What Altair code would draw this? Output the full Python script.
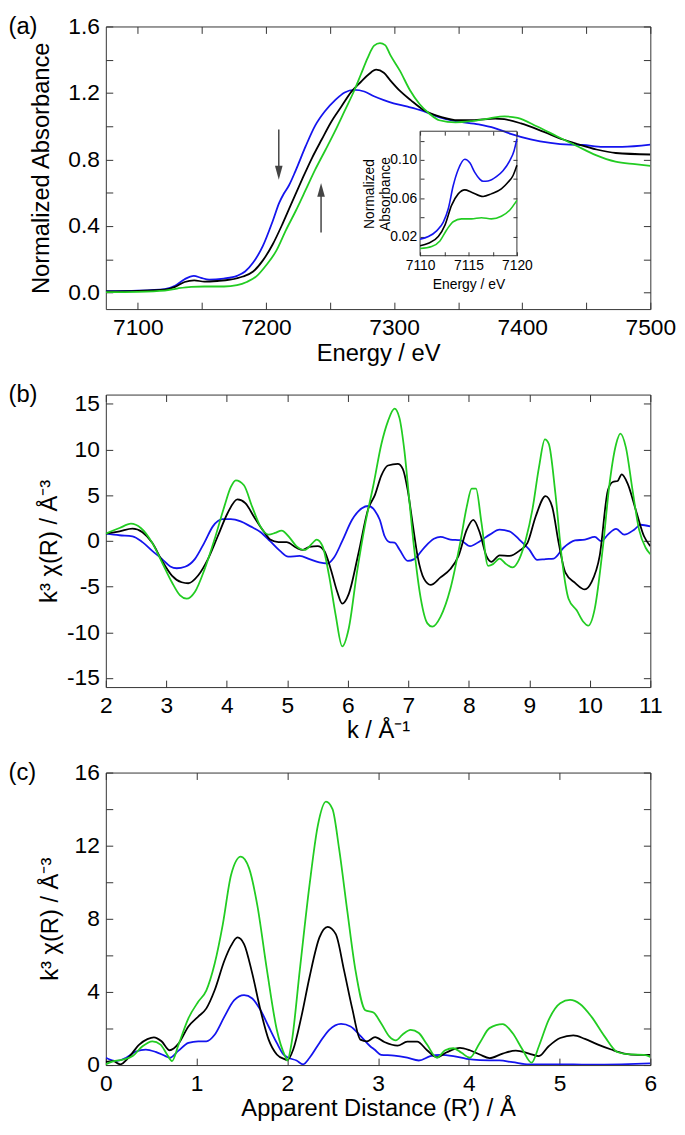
import altair as alt
import pandas as pd

SERIES = ["blue", "black", "green"]
COLORS = ["#1414ee", "#000000", "#22cc22"]
PANEL_LABELS = ["(a)", "(b)", "(c)"]

# ---------------- (a) XANES ----------------
A_BLUE_E = [7075, 7100, 7121, 7129, 7136.5, 7143.7, 7149.3, 7155.7, 7167, 7177.4, 7183.7, 7190,
            7197.6, 7205.3, 7210.4, 7214, 7218, 7223, 7231, 7238.5, 7246, 7254, 7261.4, 7269, 7276.7,
            7284.3, 7292, 7299.6, 7309.8, 7322.5, 7335, 7348, 7366, 7378.5, 7391, 7406.6, 7422,
            7437, 7447, 7463, 7478, 7500]
A_BLUE_V = [0.008, 0.011, 0.02, 0.04, 0.08, 0.10, 0.088, 0.077, 0.084, 0.10, 0.126, 0.18,
            0.28, 0.43, 0.54, 0.595, 0.645, 0.73, 0.88, 1.005, 1.09, 1.157, 1.203, 1.218, 1.209,
            1.18, 1.157, 1.138, 1.119, 1.092, 1.055, 1.03, 1.011, 0.989, 0.954, 0.921, 0.90,
            0.889, 0.887, 0.876, 0.876, 0.889]
A_BLACK_E = [7075, 7100, 7121, 7129, 7136.5, 7144, 7152, 7162, 7172, 7182, 7190, 7197.6, 7205.3,
             7213, 7220.6, 7228.2, 7236, 7243.5, 7251, 7259, 7266.4, 7274, 7280.5, 7286, 7292,
             7297, 7305, 7313, 7323, 7337, 7350, 7361, 7379, 7386, 7399, 7417, 7432, 7443, 7458,
             7473, 7500]
A_BLACK_V = [0.006, 0.01, 0.017, 0.034, 0.063, 0.073, 0.065, 0.069, 0.077, 0.096, 0.126, 0.193, 0.29,
             0.414, 0.548, 0.68, 0.81, 0.92, 1.027, 1.12, 1.205, 1.266, 1.314, 1.34, 1.322,
             1.276, 1.209, 1.157, 1.098, 1.055, 1.036, 1.036, 1.046, 1.042, 1.017, 0.966, 0.92, 0.893, 0.86,
             0.839, 0.83]
A_GREEN_E = [7075, 7100, 7121, 7131.4, 7141.6, 7151.8, 7167.2, 7177.4, 7185, 7192.7, 7200.3, 7208,
             7215.6, 7223.2, 7230.9, 7238.5, 7246.2, 7253.8, 7261.5, 7269.1, 7274.2, 7279.3, 7284.4,
             7289, 7293, 7297, 7304.6, 7312.3, 7320, 7327.6, 7335.2, 7348, 7360.7, 7373.5, 7386.2,
             7396.4, 7411.7, 7427, 7442.2, 7457.5, 7472.8, 7488, 7500]
A_GREEN_V = [0.002, 0.004, 0.011, 0.025, 0.034, 0.036, 0.036, 0.044, 0.063, 0.098, 0.165, 0.25,
             0.375, 0.49, 0.615, 0.74, 0.854, 0.969, 1.094, 1.218, 1.314, 1.41, 1.485,
             1.50, 1.488, 1.429, 1.333, 1.218, 1.132, 1.075, 1.036, 1.023, 1.031, 1.046, 1.059,
             1.05, 0.998, 0.94, 0.883, 0.826, 0.787, 0.772, 0.762]
A_XDOM = [7075, 7500]
A_YDOM = [-0.1, 1.6]
A_XTICKS = [7100, 7150, 7200, 7250, 7300, 7350, 7400, 7450, 7500]
A_YTICKS = [0.0, 0.2, 0.4, 0.6, 0.8, 1.0, 1.2, 1.4, 1.6]

# arrows in (a): x, shaft start, head centre, direction
ARROW_X = [7210, 7243]
ARROW_Y0 = [0.98, 0.36]
ARROW_HEAD = [0.72, 0.617]
ARROW_DIR = ["down", "up"]

# inset of (a): pre-edge region
IN_BLUE_E = [7110, 7110.86, 7111.71, 7112.4, 7112.91, 7113.42, 7113.94, 7114.62, 7115.14, 7115.65,
             7116.16, 7116.51, 7117.02, 7117.88, 7118.56, 7119.25, 7119.69, 7120]
IN_BLUE_V = [0.0173, 0.020, 0.026, 0.035, 0.049, 0.073, 0.090, 0.1007, 0.097, 0.087,
             0.080, 0.0777, 0.078, 0.0825, 0.0887, 0.099, 0.109, 0.122]
IN_BLACK_E = [7110, 7110.86, 7111.88, 7112.57, 7113.25, 7113.94, 7114.62, 7115.31, 7116.51, 7117.36,
              7118.39, 7119.08, 7119.59, 7120]
IN_BLACK_V = [0.0104, 0.013, 0.020, 0.032, 0.0526, 0.0646, 0.0688, 0.0664, 0.0619, 0.0646,
              0.0698, 0.0767, 0.0835, 0.0945]
IN_GREEN_E = [7110, 7111.2, 7112.05, 7112.74, 7113.42, 7114.28, 7115.31, 7116.34, 7117.36, 7118.39,
              7119.25, 7120]
IN_GREEN_V = [0.0076, 0.0097, 0.0155, 0.0269, 0.0355, 0.0385, 0.0385, 0.0396, 0.0385, 0.0413,
              0.0475, 0.0578]
IN_XDOM = [7110, 7120]
IN_YDOM = [0.0, 0.13]
IN_XTICKS = [7110, 7112.5, 7115, 7117.5, 7120]
IN_YTICKS = [0.02, 0.04, 0.06, 0.08, 0.10, 0.12]

# ---------------- (b) EXAFS k-space ----------------
B_BLUE_K = [2.0, 2.226, 2.44, 2.605, 2.767, 2.93, 3.065, 3.173, 3.309, 3.471, 3.633, 3.769, 3.931,
            4.067, 4.229, 4.391, 4.554, 4.716, 4.879, 5.014, 5.204, 5.366, 5.528, 5.664, 5.772,
            5.907, 6.07, 6.232, 6.34, 6.447, 6.528, 6.609, 6.69, 6.772, 6.853, 6.99, 7.098, 7.26,
            7.423, 7.532, 7.695, 7.857, 8.02, 8.183, 8.346, 8.508, 8.671, 8.834, 8.997, 9.132,
            9.268, 9.404, 9.566, 9.756, 9.919, 10.082, 10.19, 10.299, 10.435, 10.57, 10.733,
            10.84, 11.0]
B_BLUE_V = [0.79, 0.61, 0.5, -0.14, -1.1, -2.0, -2.8, -3.0, -2.84, -2.0, -0.14, 1.58, 2.37,
            2.37, 2.12, 1.58, 0.97, -0.04, -1.1, -1.73, -1.65, -2.0, -2.37, -2.48, -1.83,
            -0.04, 2.3, 3.56, 3.81, 3.3, 2.3, 0.5, -0.14, -0.2, -0.94, -2.19, -2.0, -0.76,
            0.22, 0.43, 0.14, 0.07, -0.58, -0.04, 0.68, 1.22, 1.04, 0.14, -0.94, -2.09,
            -2.0, -1.94, -0.76, 0.04, 0.14, 0.43, -0.04, 0.68, 1.3, 0.68, 1.22,
            1.76, 1.58]
B_BLACK_K = [2.0, 2.226, 2.44, 2.605, 2.767, 2.93, 3.092, 3.254, 3.363, 3.525, 3.688, 3.85, 4.012,
             4.175, 4.31, 4.446, 4.608, 4.716, 4.852, 4.987, 5.149, 5.258, 5.366, 5.501, 5.61,
             5.718, 5.826, 5.907, 6.016, 6.178, 6.34, 6.447, 6.555, 6.664, 6.826, 6.908, 6.99,
             7.07, 7.152, 7.26, 7.369, 7.532, 7.695, 7.83, 7.966, 8.074, 8.183, 8.29, 8.373,
             8.508, 8.671, 8.834, 8.97, 9.105, 9.268, 9.377, 9.485, 9.594, 9.756, 9.919, 10.028,
             10.163, 10.299, 10.38, 10.46, 10.527, 10.625, 10.76, 10.896, 11.0]
B_BLACK_V = [0.79, 1.04, 1.33, 0.94, -0.22, -2.19, -3.8, -4.53, -4.64, -3.8, -2.0, 0.5, 3.02,
             4.53, 4.1, 2.66, 1.04, 0.14, -0.14, -0.14, -0.76, -1.0, -0.65, -0.58, -1.1,
             -3.1, -5.6, -6.87, -5.8, -1.3, 3.56, 5.0, 7.16, 8.24, 8.42, 7.88, 5.54,
             1.94, -1.65, -4.17, -4.82, -4.0, -3.09, -1.65, 1.22, 2.3, 0.86, -1.65, -2.3,
             -1.58, -1.65, -1.1, -0.22, 2.66, 4.89, 3.74, -0.22, -3.45, -4.6, -5.32, -4.53,
             -1.65, 5.54, 6.44, 6.55, 7.27, 6.26, 3.38, 0.5, -0.58]
B_GREEN_K = [2.0, 2.226, 2.415, 2.578, 2.767, 2.93, 3.092, 3.227, 3.336, 3.471, 3.633, 3.796, 3.958,
             4.067, 4.148, 4.283, 4.418, 4.554, 4.689, 4.797, 4.906, 5.041, 5.149, 5.285, 5.42,
             5.485, 5.582, 5.69, 5.799, 5.907, 6.016, 6.151, 6.29, 6.42, 6.555, 6.664, 6.772,
             6.853, 6.935, 7.016, 7.098, 7.206, 7.315, 7.396, 7.532, 7.695, 7.857, 7.966, 8.047,
             8.118, 8.21, 8.318, 8.4, 8.508, 8.617, 8.725, 8.834, 8.942, 9.05, 9.16, 9.257,
             9.322, 9.431, 9.539, 9.648, 9.783, 9.892, 9.973, 10.082, 10.218, 10.326, 10.435,
             10.505, 10.597, 10.706, 10.814, 10.923, 11.0]
B_GREEN_V = [0.79, 1.4, 1.87, 1.4, -0.22, -2.37, -4.53, -5.97, -6.33, -5.6, -3.1, 0.14, 3.74,
             5.9, 6.62, 6.08, 3.74, 1.58, 0.68, 0.86, 1.12, 0.32, -0.58, -1.0, -0.22,
             0.14, -0.58, -3.81, -8.13, -11.55, -9.57, -3.45, 1.94, 6.0, 10.6, 13.1, 14.46,
             13.45, 9.86, 4.46, -0.94, -6.33, -9.03, -9.39, -8.31, -5.25, -0.22, 3.74, 5.72,
             5.72, 1.94, -2.73, -2.55, -1.94, -2.55, -2.91, -2.0, 0.14, 3.38, 8.06, 11.1,
             10.6, 5.18, -2.0, -6.33, -7.6, -8.85, -9.28, -7.41, -0.58, 6.26, 10.6,
             11.73, 10.2, 5.54, 1.22, -0.76, -1.47]
B_XDOM = [2, 11]
B_YDOM = [-16, 16]
B_XTICKS = [2, 3, 4, 5, 6, 7, 8, 9, 10, 11]
B_YTICKS = [-15, -10, -5, 0, 5, 10, 15]

# ---------------- (c) EXAFS R-space ----------------
C_BLUE_R = [0.0, 0.116, 0.224, 0.332, 0.441, 0.549, 0.657, 0.704, 0.801, 0.91, 1.018, 1.108, 1.199,
            1.307, 1.415, 1.523, 1.614, 1.704, 1.794, 1.884, 1.957, 2.011, 2.101, 2.173, 2.245,
            2.354, 2.462, 2.592, 2.697, 2.805, 2.913, 2.96, 3.033, 3.178, 3.322, 3.449, 3.576,
            3.685, 3.83, 3.975, 4.12, 4.337, 4.482, 4.663, 4.989, 5.315, 5.678, 6.0]
C_BLUE_V = [0.4, 0.22, 0.4, 0.74, 0.85, 0.72, 0.49, 0.4, 0.79, 1.21, 1.3, 1.3, 1.66,
            2.65, 3.55, 3.82, 3.64, 3.01, 2.11, 1.21, 0.58, 0.4, 0.25, 0.04, 0.4,
            1.21, 1.93, 2.25, 2.11, 1.6, 1.03, 0.85, 0.56, 0.52, 0.4, 0.25, 0.49,
            0.56, 0.49, 0.34, 0.27, 0.25, 0.16, 0.04, 0.04, 0.02, 0.04, 0.09]
C_BLACK_R = [0.0, 0.079, 0.159, 0.249, 0.368, 0.458, 0.53, 0.614, 0.704, 0.801, 0.91, 1.018, 1.108,
             1.199, 1.307, 1.38, 1.451, 1.523, 1.614, 1.704, 1.794, 1.884, 1.975, 2.0, 2.065,
             2.155, 2.245, 2.354, 2.444, 2.534, 2.625, 2.715, 2.805, 2.877, 2.967, 3.069, 3.214,
             3.322, 3.431, 3.54, 3.649, 3.757, 3.902, 4.011, 4.12, 4.228, 4.373, 4.518, 4.663,
             4.772, 4.88, 5.007, 5.152, 5.279, 5.424, 5.569, 5.714, 5.859, 6.0]
C_BLACK_V = [0.18, 0.22, 0.04, 0.4, 1.12, 1.42, 1.52, 1.3, 0.81, 1.17, 2.11, 2.65, 3.1,
             4.09, 5.72, 6.53, 6.98, 6.62, 5.0, 3.01, 1.39, 0.58, 0.31, 0.27, 0.85,
             2.65, 4.82, 6.98, 7.56, 7.16, 5.18, 3.1, 1.39, 1.3, 1.53, 1.26, 1.06,
             1.28, 1.28, 0.81, 0.43, 0.7, 0.94, 0.81, 0.58, 0.38, 0.63, 0.79, 0.63,
             0.49, 1.03, 1.48, 1.62, 1.43, 1.12, 0.85, 0.63, 0.56, 0.56]
C_GREEN_R = [0.0, 0.079, 0.188, 0.296, 0.404, 0.513, 0.603, 0.675, 0.729, 0.801, 0.91, 1.018, 1.108,
             1.199, 1.289, 1.38, 1.487, 1.578, 1.668, 1.776, 1.884, 1.975, 2.0, 2.047, 2.137,
             2.245, 2.336, 2.426, 2.498, 2.57, 2.661, 2.751, 2.859, 2.949, 3.033, 3.123, 3.196,
             3.268, 3.359, 3.449, 3.54, 3.649, 3.739, 3.83, 3.92, 4.011, 4.12, 4.228, 4.373,
             4.482, 4.591, 4.692, 4.772, 4.88, 5.007, 5.116, 5.225, 5.351, 5.496, 5.641, 5.786,
             5.931, 6.0]
C_GREEN_V = [0.04, 0.2, 0.3, 0.49, 1.03, 1.3, 1.12, 0.58, 0.22, 1.12, 2.56, 3.46, 4.09,
             5.54, 7.7, 10.4, 11.4, 10.77, 8.78, 5.18, 1.93, 0.49, 0.25, 1.21, 5.18,
             9.87, 13.1, 14.41, 14.0, 11.85, 8.42, 5.18, 3.0, 2.87, 2.29, 1.57, 1.35,
             1.66, 1.93, 1.75, 1.12, 0.4, 0.81, 0.92, 0.67, 0.4, 1.21, 2.02, 2.24,
             1.75, 0.85, 0.13, 1.03, 2.47, 3.38, 3.56, 3.34, 2.65, 1.57, 0.7, 0.58,
             0.56, 0.45]
C_XDOM = [0, 6]
C_YDOM = [0, 16]
C_XTICKS = [0, 1, 2, 3, 4, 5, 6]
C_YTICKS = [0, 2, 4, 6, 8, 10, 12, 14, 16]

# ---------------- layout / style ----------------
W = 551
HA, HB, HC = 286, 296, 296
T = 7            # main tick length (inward)
TI = 4           # inset tick length
FONT = "Liberation Sans"
LBL = 23
TTL = 24
FRAME = "#333333"
# inset box in pixels, relative to panel (a) plot area
IN_X0, IN_X1, IN_Y0, IN_Y1 = 318, 416, 106, 232


def long_df(parts):
    rows = []
    for name, xs, ys in parts:
        for i, (x, y) in enumerate(zip(xs, ys)):
            rows.append({"s": name, "x": x, "y": y, "o": i})
    return pd.DataFrame(rows)


def color_enc():
    return alt.Color("s:N", scale=alt.Scale(domain=SERIES, range=COLORS), legend=None)


def panel(df, xdom, ydom, xticks, yticks, xexpr, yexpr, xtitle, ytitle,
          xtitle_y, ytitle_x, height, label, extra=()):
    xs = alt.Scale(domain=xdom, nice=False, zero=False)
    ys = alt.Scale(domain=ydom, nice=False, zero=False)
    xa = alt.Axis(orient="bottom", values=xticks, labelExpr=xexpr, title=xtitle, offset=-T,
                  tickSize=T, labelPadding=8, titleY=xtitle_y, titleBaseline="middle",
                  labelFlush=False, labelOverlap=False)
    ya = alt.Axis(orient="left", values=yticks, labelExpr=yexpr, title=ytitle, offset=-T,
                  tickSize=T, labelPadding=6.5, titleX=ytitle_x, titleBaseline="middle",
                  labelOverlap=False)
    xm = alt.Axis(orient="top", values=xticks, labels=False, title=None, offset=-T, tickSize=T)
    ym = alt.Axis(orient="right", values=yticks, labels=False, title=None, offset=-T, tickSize=T)

    main = alt.Chart(df).mark_line(strokeWidth=1.8, interpolate="monotone", clip=True).encode(
        x=alt.X("x:Q", scale=xs, axis=xa),
        y=alt.Y("y:Q", scale=ys, axis=ya),
        color=color_enc(),
        order=alt.Order("o:Q"),
    )
    dummy = pd.DataFrame({"x": xdom, "y": ydom})
    mirror = alt.Chart(dummy).mark_point(opacity=0).encode(
        x=alt.X("x:Q", scale=xs, axis=xm),
        y=alt.Y("y:Q", scale=ys, axis=ym),
    )
    lab = alt.Chart(pd.DataFrame({"t": [label]})).mark_text(
        font=FONT, fontSize=TTL, align="left", baseline="middle", color="#000"
    ).encode(text="t:N", x=alt.value(-98.5), y=alt.value(1))
    layers = [main, mirror] + [f(xs, ys) for f in extra] + [lab]
    return alt.layer(*layers).resolve_scale(x="independent", y="independent").properties(
        width=W, height=height)


# ---------- panel (a) extras ----------
def arrows(xs, ys):
    d = pd.DataFrame({"x": ARROW_X, "y0": ARROW_Y0, "yh": ARROW_HEAD, "dir": ARROW_DIR})
    return alt.Chart(d).mark_rule(color="#444444", strokeWidth=1.5).encode(
        x=alt.X("x:Q", scale=xs, axis=None),
        y=alt.Y("y0:Q", scale=ys, axis=None),
        y2="yh:Q",
    )


def heads(xs, ys):
    d = pd.DataFrame({"x": ARROW_X, "yh": ARROW_HEAD, "dir": ARROW_DIR})
    return alt.Chart(d).mark_point(filled=True, opacity=1, color="#444444", size=196).encode(
        x=alt.X("x:Q", scale=xs, axis=None),
        y=alt.Y("yh:Q", scale=ys, axis=None),
        shape=alt.Shape("dir:N", scale=alt.Scale(
            domain=["down", "up"],
            range=["M -0.55 -1 L 0.55 -1 L 0 1 Z", "M -0.55 1 L 0.55 1 L 0 -1 Z"]), legend=None),
    )


def inset_scales():
    xs = alt.Scale(domain=IN_XDOM, range=[IN_X0, IN_X1], nice=False, zero=False)
    ys = alt.Scale(domain=IN_YDOM, range=[IN_Y1, IN_Y0], nice=False, zero=False)
    return xs, ys


def inset_lines(_xs, _ys):
    xs, ys = inset_scales()
    df = long_df([("blue", IN_BLUE_E, IN_BLUE_V), ("black", IN_BLACK_E, IN_BLACK_V),
                  ("green", IN_GREEN_E, IN_GREEN_V)])
    xa = alt.Axis(orient="bottom", values=IN_XTICKS,
                  labelExpr="datum.value % 5 == 0 ? '' + datum.value : ''",
                  title="Energy / eV", offset=IN_Y1 - TI - HA, tickSize=TI, labelPadding=3,
                  labelFontSize=14, titleFontSize=14, titleY=33.5, titleBaseline="middle",
                  labelFlush=False, labelOverlap=False)
    ya = alt.Axis(orient="left", values=IN_YTICKS,
                  labelExpr="round(datum.value * 100) % 4 == 2 ? format(datum.value, '.2f') : ''",
                  title=["Normalized", "Absorbance"], offset=-(IN_X0 + TI), tickSize=TI,
                  labelPadding=3.5, labelFontSize=14, titleFontSize=14, titleX=-55,
                  titleBaseline="middle", titleLineHeight=16, labelOverlap=False)
    return alt.Chart(df).mark_line(strokeWidth=1.6, interpolate="monotone").encode(
        x=alt.X("x:Q", scale=xs, axis=xa),
        y=alt.Y("y:Q", scale=ys, axis=ya),
        color=color_enc(),
        order=alt.Order("o:Q"),
    )


def inset_mirror(_xs, _ys):
    xs, ys = inset_scales()
    d = pd.DataFrame({"x": IN_XDOM, "y": IN_YDOM})
    xm = alt.Axis(orient="top", values=IN_XTICKS, labels=False, title=None,
                  offset=-(IN_Y0 + TI), tickSize=TI)
    ym = alt.Axis(orient="right", values=IN_YTICKS, labels=False, title=None,
                  offset=IN_X1 - TI - W, tickSize=TI)
    return alt.Chart(d).mark_point(opacity=0).encode(
        x=alt.X("x:Q", scale=xs, axis=xm),
        y=alt.Y("y:Q", scale=ys, axis=ym),
    )


def inset_frame(_xs, _ys):
    xs, ys = inset_scales()
    d = pd.DataFrame({"x": [IN_XDOM[0]], "x2": [IN_XDOM[1]], "y": [IN_YDOM[0]], "y2": [IN_YDOM[1]]})
    return alt.Chart(d).mark_rect(fillOpacity=0, stroke=FRAME, strokeWidth=1).encode(
        x=alt.X("x:Q", scale=xs, axis=None), x2="x2:Q",
        y=alt.Y("y:Q", scale=ys, axis=None), y2="y2:Q",
    )


dfa = long_df([("blue", A_BLUE_E, A_BLUE_V), ("black", A_BLACK_E, A_BLACK_V),
               ("green", A_GREEN_E, A_GREEN_V)])
dfb = long_df([("blue", B_BLUE_K, B_BLUE_V), ("black", B_BLACK_K, B_BLACK_V),
               ("green", B_GREEN_K, B_GREEN_V)])
dfc = long_df([("blue", C_BLUE_R, C_BLUE_V), ("black", C_BLACK_R, C_BLACK_V),
               ("green", C_GREEN_R, C_GREEN_V)])

pa = panel(dfa, A_XDOM, A_YDOM, A_XTICKS, A_YTICKS,
           "datum.value % 100 == 0 ? '' + datum.value : ''",
           "round(datum.value * 10) % 4 == 0 ? format(datum.value, '.1f') : ''",
           "Energy / eV", "Normalized Absorbance", 52, -72.5, HA, PANEL_LABELS[0],
           extra=(arrows, heads, inset_frame, inset_lines, inset_mirror))
pb = panel(dfb, B_XDOM, B_YDOM, B_XTICKS, B_YTICKS,
           "'' + datum.value", "'' + datum.value",
           "k / Å⁻¹", "k³ χ(R) / Å⁻³", 51, -63.5, HB, PANEL_LABELS[1])
pc = panel(dfc, C_XDOM, C_YDOM, C_XTICKS, C_YTICKS,
           "'' + datum.value", "datum.value % 4 == 0 ? '' + datum.value : ''",
           "Apparent Distance (R′) / Å", "k³ χ(R) / Å⁻³", 51, -62.5, HC, PANEL_LABELS[2])

chart = alt.vconcat(pa, pb, pc, spacing=86.5, bounds="flush").properties(
    padding={"left": 0, "top": 0, "right": 0, "bottom": 0}
).configure_view(stroke=FRAME, strokeWidth=1).configure_axis(
    labelFont=FONT, titleFont=FONT, labelFontSize=LBL, titleFontSize=TTL,
    titleFontWeight="normal", labelColor="#000", titleColor="#000",
    tickColor=FRAME, tickWidth=1, grid=False, domain=False,
)

chart.save("out.html", embed_options={"renderer": "svg", "actions": False})
